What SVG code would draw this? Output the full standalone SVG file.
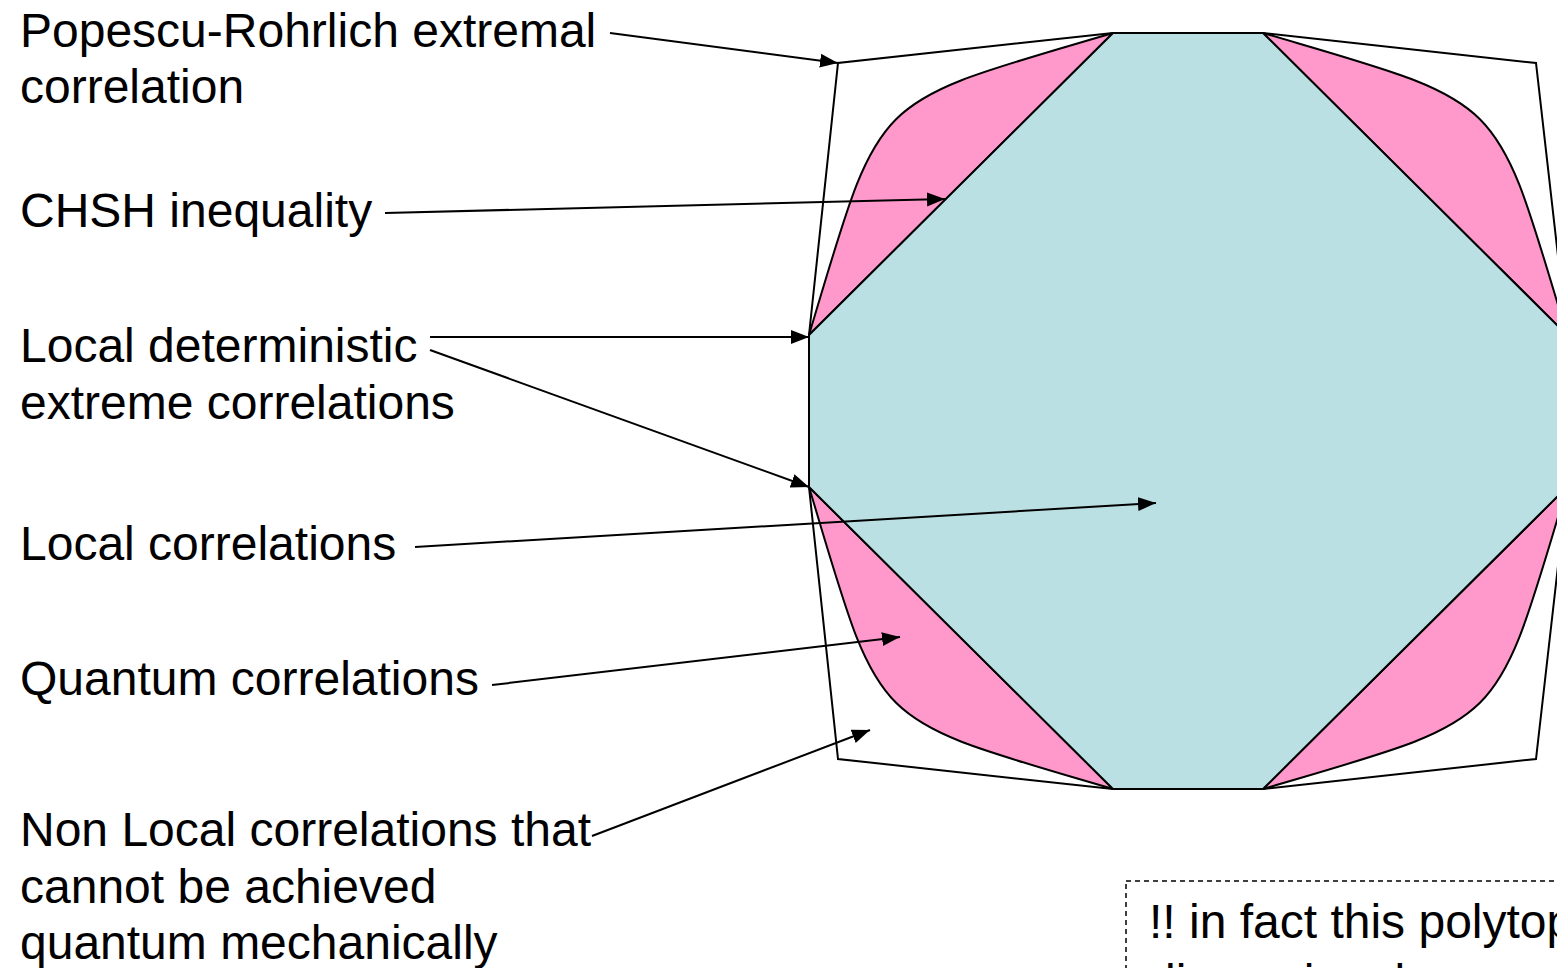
<svg xmlns="http://www.w3.org/2000/svg" width="1557" height="968" viewBox="0 0 1557 968">
<defs>
<style>
.lbl{font-family:"Liberation Sans",Arial,sans-serif;font-size:48px;fill:#000}
.edge{fill:none;stroke:#000;stroke-width:2;stroke-linejoin:miter}
.pink{fill:#FF99CC;stroke:#000;stroke-width:2}
.oct{fill:#BBE0E3;stroke:#000;stroke-width:2}
.conn{fill:none;stroke:#000;stroke-width:2;marker-end:url(#ah)}
.note{fill:none;stroke:#000;stroke-width:1.5;stroke-dasharray:5,4}
</style>
<marker id="ah" markerUnits="userSpaceOnUse" markerWidth="20" markerHeight="16" refX="18" refY="7" orient="auto" viewBox="0 0 20 14">
<path d="M0,0 L18,7 L0,14 Z" fill="#000"/>
</marker>
</defs>
<rect width="1557" height="968" fill="#fff"/>
<g id="pr-polytope">
<polygon class="edge" points="809,335 838,63 1113,33 1263,33 1536,63 1567,335 1567,487 1536,759 1263,789 1113,789 838,759 809,487"/>
</g>
<g id="quantum-set">
<path class="pink" d="M809,335 C883,89 866,106 1113,33 Z"/>
<path class="pink" d="M1263,33 C1510,106 1493,89 1567,335 Z"/>
<path class="pink" d="M809,487 C883,733 866,716 1113,789 Z"/>
<path class="pink" d="M1263,789 C1510,716 1493,733 1567,487 Z"/>
</g>
<g id="local-polytope">
<polygon class="oct" points="1113,33 1263,33 1567,335 1567,487 1263,789 1113,789 809,487 809,335"/>
</g>
<g id="labels">
<text class="lbl" x="20" y="47">Popescu-Rohrlich extremal</text>
<text class="lbl" x="20" y="103">correlation</text>
<text class="lbl" x="20" y="227">CHSH inequality</text>
<text class="lbl" x="20" y="362">Local deterministic</text>
<text class="lbl" x="20" y="419">extreme correlations</text>
<text class="lbl" x="20" y="560">Local correlations</text>
<text class="lbl" x="20" y="695">Quantum correlations</text>
<text class="lbl" x="20" y="846">Non Local correlations that</text>
<text class="lbl" x="20" y="903">cannot be achieved</text>
<text class="lbl" x="20" y="959">quantum mechanically</text>
</g>
<g id="note">
<rect class="note" x="1126" y="881" width="460" height="120"/>
<text class="lbl" x="1149" y="938">!! in fact this polytope</text>
<text class="lbl" x="1149" y="998">dimensional</text>
</g>
<g id="connectors">
<line class="conn" x1="610" y1="33" x2="838" y2="63"/>
<line class="conn" x1="385" y1="213" x2="945" y2="199"/>
<line class="conn" x1="430" y1="337" x2="809" y2="337"/>
<line class="conn" x1="430" y1="350" x2="809" y2="487"/>
<line class="conn" x1="415" y1="547" x2="1156" y2="503"/>
<line class="conn" x1="492" y1="685" x2="900" y2="637"/>
<line class="conn" x1="592" y1="836" x2="870" y2="730"/>
</g>
</svg>
